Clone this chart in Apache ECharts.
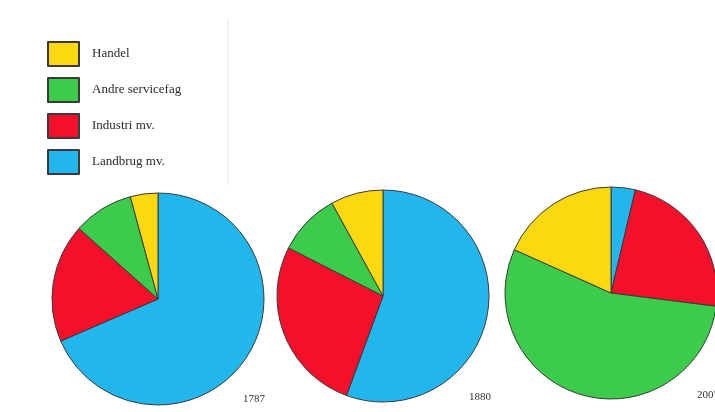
<!DOCTYPE html>
<html>
<head>
<meta charset="utf-8">
<script src="https://cdn.jsdelivr.net/npm/echarts@6/dist/echarts.min.js"></script>
<style>
  html, body { margin: 0; padding: 0; background: #fff; }
  #main { width: 715px; height: 412px; }
</style>
</head>
<body>
<div id="main"></div>
<script>
// kategorier (rækkefølge i legenden)
var categories = ['Handel', 'Andre servicefag', 'Industri mv.', 'Landbrug mv.'];
var colors = {
  'Handel': '#fbd80f',
  'Andre servicefag': '#3ccb4b',
  'Industri mv.': '#f2102b',
  'Landbrug mv.': '#22b7ec'
};
// andele i procent, angivet med uret fra kl. 12
var pieOrder = ['Landbrug mv.', 'Industri mv.', 'Andre servicefag', 'Handel'];
var years = ['1787', '1880', '2007'];
var share1787 = [68.5, 18.1, 9.2, 4.2];
var share1880 = [55.6, 26.9, 9.5, 8.0];
var share2007 = [3.7, 23.3, 54.7, 18.3];

var myChart = echarts.init(document.getElementById('main'), null, { renderer: 'canvas' });

function pieData(values) {
  return pieOrder.map(function (name, i) {
    return { name: name, value: values[i], itemStyle: { color: colors[name] } };
  });
}

function pieSeries(values, center) {
  return {
    type: 'pie',
    center: center,
    radius: 106,
    startAngle: 90,
    clockwise: true,
    label: { show: false },
    labelLine: { show: false },
    itemStyle: { borderColor: '#3a3a3a', borderWidth: 1 },
    emphasis: { disabled: true },
    data: pieData(values)
  };
}

var yearFont = '11px "Liberation Serif"';

var option = {
  backgroundColor: '#ffffff',
  animation: false,
  legend: {
    data: categories,
    orient: 'vertical',
    left: 47,
    top: 41,
    padding: 0,
    icon: 'rect',
    itemWidth: 31,
    itemHeight: 24,
    itemGap: 10,
    selectedMode: false,
    textStyle: {
      fontFamily: 'Liberation Serif',
      fontSize: 13,
      color: '#2a2a2a',
      padding: [0, 0, 0, 8]
    }
  },
  graphic: [
    // svag sidekant i baggrunden
    { type: 'line', shape: { x1: 228, y1: 18, x2: 228, y2: 185 }, style: { stroke: '#e6e6e6', lineWidth: 1 } },
    { type: 'text', left: 243, top: 394, style: { text: years[0], font: yearFont, fill: '#333' } },
    { type: 'text', left: 469, top: 392, style: { text: years[1], font: yearFont, fill: '#333' } },
    { type: 'text', left: 697, top: 390, style: { text: years[2], font: yearFont, fill: '#333' } }
  ],
  series: [
    pieSeries(share1787, [158, 299]),
    pieSeries(share1880, [383, 296]),
    pieSeries(share2007, [611, 293])
  ]
};

myChart.setOption(option);
</script>
</body>
</html>
